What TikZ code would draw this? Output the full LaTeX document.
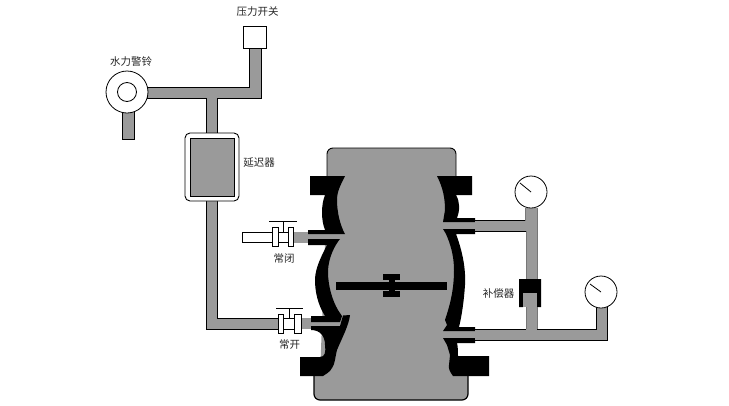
\documentclass[tikz,border=0pt]{standalone}
\usepackage{fontspec}
\setmainfont{Noto Sans CJK SC}
\definecolor{pipegray}{HTML}{9A9A9A}
\definecolor{edgegray}{HTML}{777777}
\tikzset{
  pipe/.style={fill=pipegray,draw=black,line width=0.8pt},
  pipefill/.style={fill=pipegray,draw=none},
  wall/.style={fill=black,draw=none},
  whitepart/.style={fill=white,draw=black,line width=0.8pt},
  gaugeface/.style={circle,fill=white,draw=black,line width=0.8pt,inner sep=0pt,minimum size=32pt},
  lbl/.style={font=\fontsize{10.5}{10.5}\selectfont,inner sep=0pt,text=black!85},
  stem/.style={draw=black,line width=0.9pt}
}
\begin{document}
\begin{tikzpicture}[x=1pt,y=-1pt]
\useasboundingbox[fill=white] (0,0) rectangle (729,405);
% upper left pipes
\draw[pipe] (147,87) -- (249,87) -- (249,48) -- (261,48) -- (261,98) -- (217,98) -- (217,134) -- (206,134) -- (206,98) -- (147,98) -- cycle;
\draw[pipe] (122,110) rectangle (134,139);
\node[gaugeface,minimum size=42pt] (bell) at (127,92) {};
\node[circle,draw=black,line width=0.8pt,fill=white,minimum size=19pt,inner sep=0pt] (bellin) at (127,92) {};
\node[draw=black,line width=0.8pt,fill=white,minimum width=23pt,minimum height=22pt,inner sep=0pt] (switch) at (254.5,37) {};
% delay box pipe
\draw[pipe] (217,200) -- (217,318) -- (279,318) -- (279,329) -- (206,329) -- (206,200);
\draw[fill=white,draw=black,line width=0.9pt,rounded corners=5pt] (185,133) rectangle (239,201);
\draw[fill=pipegray,draw=black,line width=0.7pt] (190,138) rectangle (234,196);
% body
\path[pipefill] (327,190) -- (456,190) -- (456,376) -- (320,376) -- cycle;
\fill[pipegray,rounded corners=6pt] (327,185) -- (327,148) -- (456,148) -- (456,185) -- cycle;
\fill[pipegray,rounded corners=6pt] (314,370) -- (314,400) -- (468,400) -- (468,370) -- cycle;
\fill[pipegray] (332,176) rectangle (450,380);
\fill[white] (300,180) rectangle (327,195);
\draw[black,line width=0.9pt,rounded corners=6pt] (327,178) -- (327,148) -- (456,148) -- (456,178);
\draw[black,line width=1.2pt,rounded corners=6pt] (314,374) -- (314,400) -- (468,400) -- (468,374);
% gray stubs through walls
\fill[pipegray] (300,318) rectangle (342,329);
\fill[pipegray] (292,232) rectangle (348,243);
\fill[pipegray] (445,221) rectangle (480,231);
\fill[pipegray] (445,330) rectangle (480,340);
% left walls
\fill[wall] (310,176) -- (345,176) .. controls (340,186) and (337,192) .. (337,200) .. controls (337,212) and (340,225) .. (345,234) -- (308,234) -- (308,230) -- (325,230) .. controls (321,220) and (321,205) .. (325,195) -- (310,195) -- cycle;
\fill[wall] (308,239) -- (340,239) .. controls (335,245) and (328,258) .. (328,272) .. controls (328,285) and (332,300) .. (338,310) -- (342,316) -- (340,322) -- (311,322) -- (311,316) -- (325,316) .. controls (318,305) and (315,292) .. (315,280) .. controls (315,268) and (322,255) .. (327,245) -- (308,245) -- cycle;
\fill[wall] (311,326) -- (340,326) -- (343,315.5) -- (350,315) .. controls (349,325) and (342,338) .. (337,350) .. controls (335,358) and (335,364) .. (332,368) .. controls (330,372) and (326,374) .. (323,376) -- (300,376) -- (300,357) -- (320,357) .. controls (325,357) and (326,352) .. (325,345) .. controls (325,336) and (320,330) .. (311,330) -- cycle;
% right walls
\fill[wall] (472,176) -- (437,176) .. controls (443,188) and (445,198) .. (445,210) -- (443,222) -- (475,222) -- (475,218) -- (457,218) .. controls (460,210) and (460,202) .. (456,195) -- (472,195) -- cycle;
\fill[wall] (443,229) -- (475,229) -- (475,234) -- (456,234) .. controls (462,250) and (466,268) .. (465,285) .. controls (464,300) and (462,315) .. (459,327) -- (475,327) -- (475,331) -- (443,331) -- (447,325) -- (445,320) .. controls (450,305) and (454,290) .. (454,270) .. controls (454,255) and (450,243) .. (446,234) -- cycle;
\fill[wall] (443,338) -- (475,338) -- (475,343) -- (457,343) .. controls (458,347) and (458,352) .. (458,356) -- (489,356) -- (489,376) -- (453,376) .. controls (450,372) and (448,368) .. (449,365) -- (450,355) -- (447,345) -- cycle;
% disc
\fill[wall] (336,282) rectangle (447,290);
\fill[wall] (383,274) rectangle (400,279.5);
\fill[wall] (389,279) rectangle (395,292);
\fill[wall] (383,291) rectangle (400,297);
% upper valve
\draw[whitepart] (242,232) rectangle (272,242);
\draw[whitepart] (278,232) rectangle (288,242);
\draw[whitepart] (272,227) rectangle (278,246);
\draw[whitepart] (288,227) rectangle (293,246);
\coordinate (ubar) at (283,221);
\draw[stem] (269,221) -- (297,221);
\draw[stem] (ubar) -- (283,232);
% lower valve
\draw[whitepart] (283,318) rectangle (294,329);
\draw[whitepart] (278,314) rectangle (283,333);
\draw[whitepart] (294,314) rectangle (301,333);
\coordinate (lbar) at (289,308);
\draw[stem] (276,308) -- (303,308);
\draw[stem] (lbar) -- (289,318);
% right pipes
\fill[pipegray] (475,221) -- (525,221) -- (525,208) -- (537,208) -- (537,282) -- (526,282) -- (526,231) -- (475,231) -- cycle;
\draw[black,line width=0.8pt] (475,220.5) -- (525,220.5);
\draw[black,line width=0.8pt] (475,231) -- (526,231);
\draw[edgegray,line width=0.7pt] (525,208) -- (525,220.5) (537,208) -- (537,280) (526,231) -- (526,280);
\fill[pipegray] (475,330) -- (596,330) -- (596,306) -- (607,306) -- (607,340) -- (475,340) -- cycle;
\draw[black,line width=0.8pt] (475,329.5) -- (526,329.5) (537,329.5) -- (596,329.5) -- (596,306) (607,306) -- (607,340.5) -- (475,340.5);
\fill[wall] (519,279) -- (541,279) -- (541,307) -- (537,307) -- (537,293) -- (523,293) -- (523,307) -- (519,307) -- cycle;
\fill[pipegray] (523,293) rectangle (537,307);
\fill[pipegray] (526,306) rectangle (537,331);
\draw[edgegray,line width=0.7pt] (526,307) -- (526,329) (537,307) -- (537,329);
% gauges
\node[gaugeface] (gone) at (531,192) {};
\node[gaugeface] (gtwo) at (601,292) {};
\draw[black,line width=0.8pt] (gone.center) -- (520,183);
\draw[black,line width=0.8pt] (gtwo.center) -- (590,284);
% labels
\node[lbl] (l1) at (257.5,11.5) {压力开关};
\node[lbl] (l2) at (131,61.5) {水力警铃};
\node[lbl] (l3) at (259,163) {延迟器};
\node[lbl] (l4) at (284,258) {常闭};
\node[lbl] (l5) at (289.5,345) {常开};
\node[lbl] (l6) at (498.5,293) {补偿器};
\end{tikzpicture}
\end{document}
